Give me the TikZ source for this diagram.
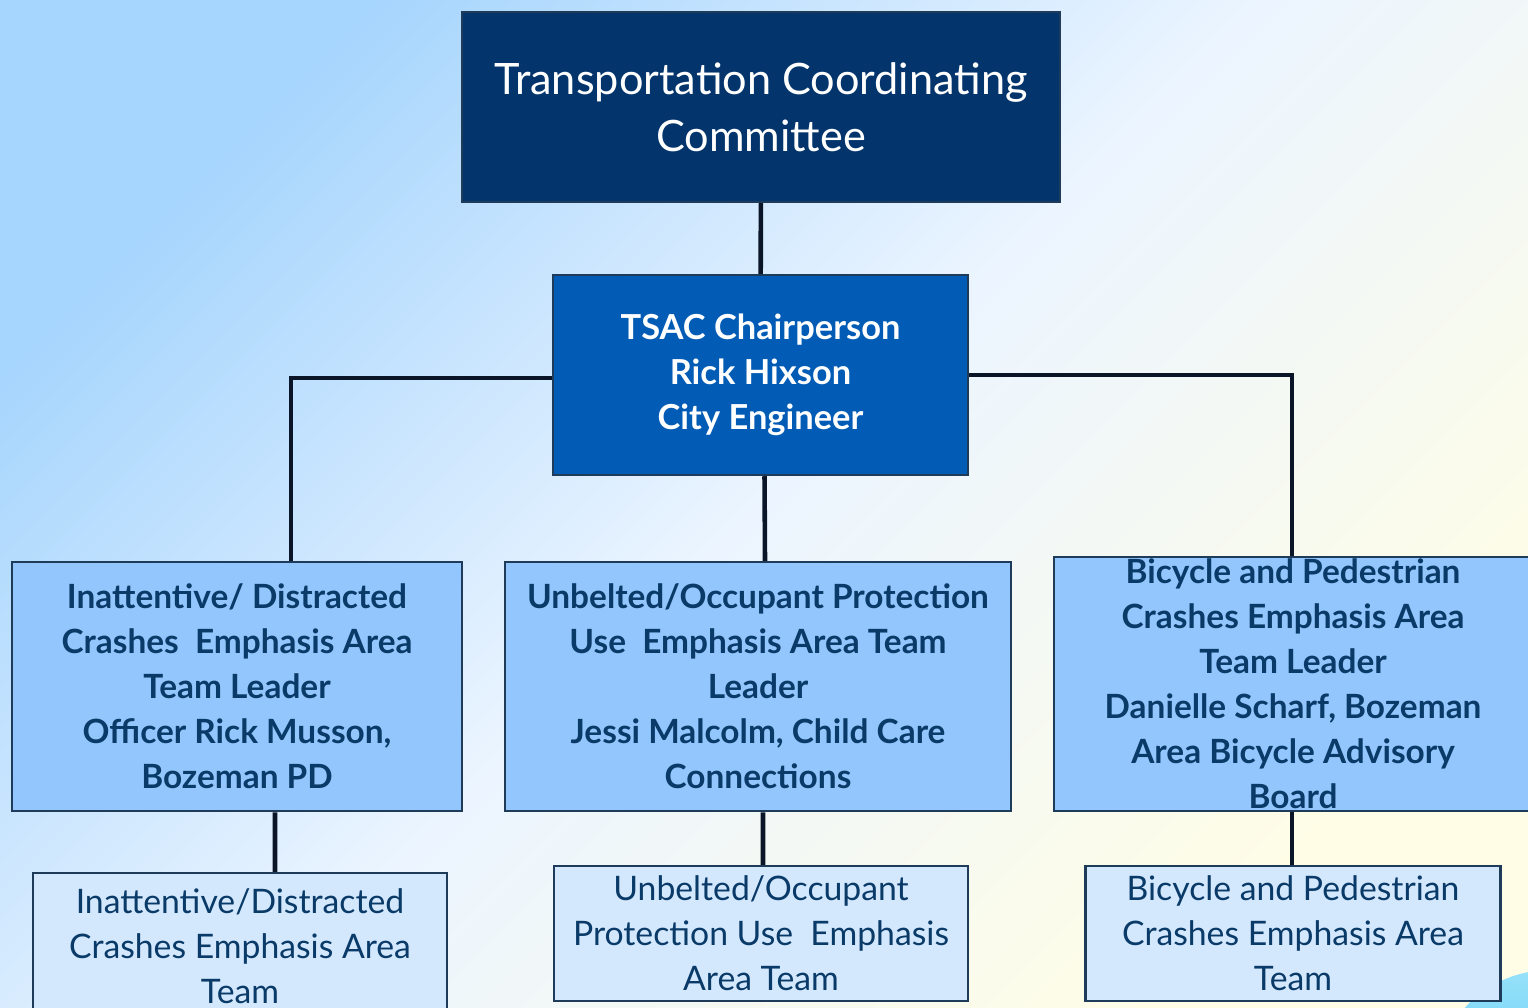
\documentclass[tikz,border=0pt]{standalone}
\usepackage{fontspec}
\setmainfont{Lato}
\usetikzlibrary{positioning}
\definecolor{bgblue}{RGB}{166,213,253}
\definecolor{bgmid}{RGB}{236,245,255}
\definecolor{bgyellow}{RGB}{255,253,230}
\definecolor{navy}{RGB}{3,53,108}
\definecolor{chairblue}{RGB}{2,91,181}
\definecolor{leadblue}{RGB}{147,198,252}
\definecolor{teamblue}{RGB}{212,232,253}
\definecolor{inkblue}{RGB}{9,58,104}
\definecolor{edgeblue}{RGB}{31,59,90}
\definecolor{linkblack}{RGB}{10,22,40}
\definecolor{blobcyan}{RGB}{64,196,242}
\definecolor{blobtop}{RGB}{150,225,250}

\begin{document}
\begin{tikzpicture}[
    box/.style={draw=edgeblue, line width=0.7pt, rectangle, inner sep=0pt, align=center},
    lead/.style={box, fill=leadblue, text=inkblue, font=\fontsize{9.5}{12.8}\selectfont\bfseries},
    team/.style={box, fill=teamblue, text=inkblue, font=\fontsize{9.6}{12.8}\selectfont},
    link/.style={draw=linkblack, line width=1.3pt}
  ]
    % background
    \useasboundingbox (0,0) rectangle (15.28,-10.07);
    \clip (0,0) rectangle (15.28,-10.07);
    \shade [top color=bgblue, bottom color=bgyellow, middle color=bgmid, shading angle=45] (0,0) rectangle (15.28,-10.07);
    \shade [top color=blobtop, bottom color=blobcyan] (15.5,-10.85) circle (1.15);

    \node [box, fill=navy, text=white, minimum width=5.98cm, minimum height=1.9cm, font=\fontsize{12.3}{16.2}\selectfont] (tcc) at (7.61,-1.07) {Transportation Coordinating\\Committee};
    \node [box, fill=chairblue, text=white, minimum width=4.15cm, minimum height=2.0cm, font=\fontsize{9.8}{12.8}\selectfont\bfseries] (tsac) at (7.605,-3.75) {TSAC Chairperson\\Rick Hixson\\City Engineer};

    \node [lead, minimum width=4.5cm, minimum height=2.49cm] (lead1) at (2.37,-6.865) {Inattentive/ Distracted\\Crashes\ \ Emphasis Area\\Team Leader\\Officer Rick Musson,\\Bozeman PD};
    \node [lead, minimum width=5.06cm, minimum height=2.49cm] (lead2) at (7.58,-6.865) {Unbelted/Occupant Protection\\Use\ \ Emphasis Area Team\\Leader\\Jessi Malcolm, Child Care\\Connections};
    \node [lead, minimum width=4.78cm, minimum height=2.54cm] (lead3) at (12.93,-6.84) {Bicycle and Pedestrian\\Crashes Emphasis Area\\Team Leader\\Danielle Scharf, Bozeman\\Area Bicycle Advisory\\Board};

    \node [team, minimum width=4.14cm, minimum height=1.47cm] (team1) at (2.40,-9.465) {Inattentive/Distracted\\Crashes Emphasis Area\\Team};
    \node [team, minimum width=4.14cm, minimum height=1.35cm] (team2) at (7.61,-9.335) {Unbelted/Occupant\\Protection Use\ \ Emphasis\\Area Team};
    \node [team, minimum width=4.15cm, minimum height=1.35cm] (team3) at (12.93,-9.335) {Bicycle and Pedestrian\\Crashes Emphasis Area\\Team};

    % connectors
    \draw [link] (tcc) -- (tsac);
    \draw [link] ([yshift=-0.3mm]tsac.west) -| ([xshift=5.4mm]lead1.north);
    \draw [link] (tsac.east) -| ([xshift=-0.1mm]lead3.north);
    \draw [link] ([xshift=0.4mm]tsac.south) -- ([xshift=0.7mm]lead2.north);
    \draw [link] ([xshift=3.8mm]lead1.south) -- ([xshift=3.5mm]team1.north);
    \draw [link] ([xshift=0.5mm]lead2.south) -- ([xshift=0.2mm]team2.north);
    \draw [link] ([xshift=-0.1mm]lead3.south) -- ([xshift=-0.1mm]team3.north);
  \end{tikzpicture}
\end{document}
